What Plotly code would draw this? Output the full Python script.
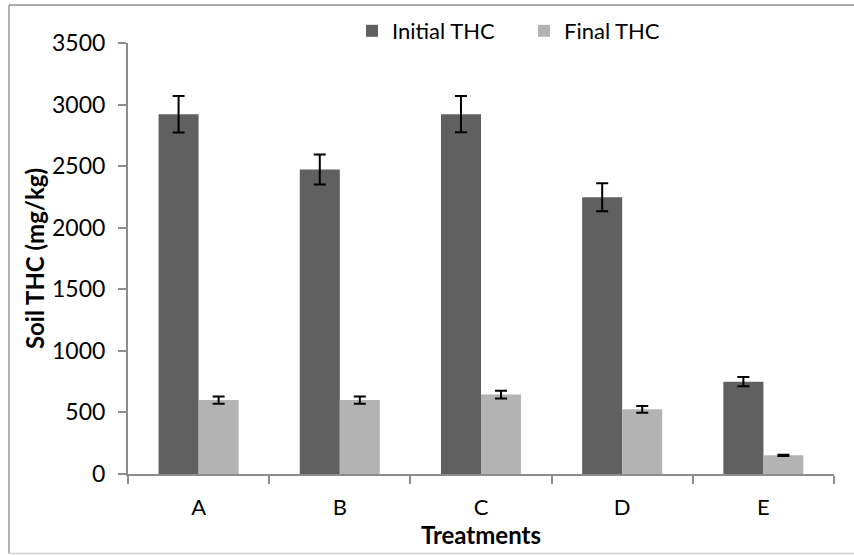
import plotly.graph_objects as go

categories = ["A", "B", "C", "D", "E"]
initial_thc = [2922, 2473, 2922, 2248, 750]
initial_err = [148, 122, 147, 114, 38]
final_thc = [600, 600, 645, 525, 152]
final_err = [30, 30, 32, 27, 5]

FONT = "Lato"
fig = go.Figure()
fig.add_trace(go.Bar(
    x=categories, y=initial_thc, name="Initial THC",
    marker=dict(color="#606060", line=dict(width=0)),
    error_y=dict(type="data", array=initial_err, visible=True,
                 color="black", thickness=2, width=6),
))
fig.add_trace(go.Bar(
    x=categories, y=final_thc, name="Final THC",
    marker=dict(color="#b3b3b3", line=dict(width=0)),
    error_y=dict(type="data", array=final_err, visible=True,
                 color="black", thickness=2, width=6),
))

fig.update_layout(
    width=854, height=555,
    margin=dict(l=128, r=20, t=43, b=81, autoexpand=False),
    paper_bgcolor="white", plot_bgcolor="white",
    barmode="group", bargap=0.433, bargroupgap=0,
    font=dict(family=FONT, size=22, color="black"),
    showlegend=True,
    legend=dict(orientation="h", xref="container", yref="container",
                x=352 / 854, xanchor="left", y=1 - 31 / 555, yanchor="middle",
                font=dict(size=22), tracegroupgap=0,
                entrywidth=127, entrywidthmode="pixels",
                bgcolor="rgba(0,0,0,0)"),
    xaxis=dict(
        type="category", tickson="boundaries",
        showline=True, linecolor="#8c8c8c", linewidth=2,
        ticks="outside", ticklen=8, tickcolor="#8c8c8c", tickwidth=2,
        showgrid=False, zeroline=False,
        tickfont=dict(size=22), ticklabelstandoff=13,
        title=dict(text="<b>Treatments</b>", font=dict(size=24), standoff=4),
    ),
    yaxis=dict(
        range=[0, 3500], dtick=500, tick0=0,
        showline=True, linecolor="#8c8c8c", linewidth=2,
        ticks="outside", ticklen=8, tickcolor="#8c8c8c", tickwidth=2,
        showgrid=False, zeroline=False,
        tickfont=dict(size=23), ticklabelstandoff=8,
        title=dict(text="<b>Soil THC (mg/kg)</b>", font=dict(size=24), standoff=1),
    ),
)

# outer chart frame (left, top, bottom edges; the right edge lies beyond the image)
bx0 = (9 - 128) / 706
bx1 = (900 - 128) / 706
by0 = (474 - 553.5) / 431
by1 = (474 - 5) / 431
for (x0, y0, x1, y1, col) in [
    (bx0, by0, bx0, by1, "#9a9a9a"),
    (bx0, by1, bx1, by1, "#8f8f8f"),
    (bx0, by0, bx1, by0, "#cfcfcf"),
]:
    fig.add_shape(type="line", xref="paper", yref="paper",
                  x0=x0, y0=y0, x1=x1, y1=y1,
                  line=dict(color=col, width=1.5), layer="below")

fig.write_html("out.html", config={"displayModeBar": False},
               post_script="document.body.style.margin='0';document.body.style.overflow='hidden';"
                           "document.documentElement.style.overflow='hidden';")
